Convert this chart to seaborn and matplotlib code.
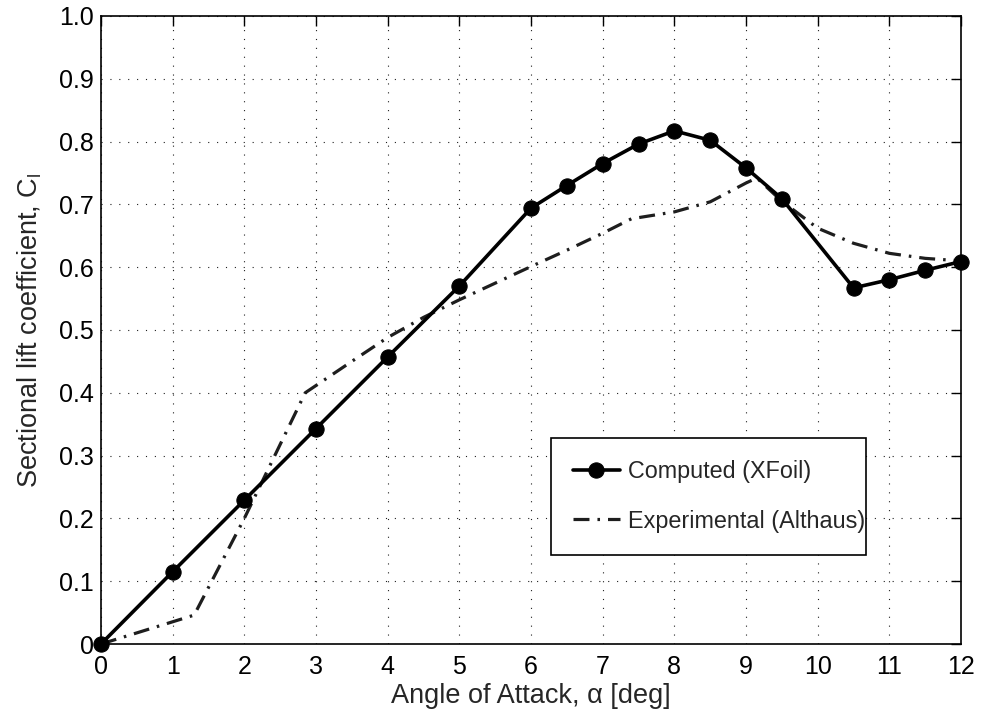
import matplotlib
matplotlib.use("Agg")
import matplotlib.pyplot as plt
import seaborn as sns
import pandas as pd

# Computed (XFoil)
alpha_comp = [0, 1, 2, 3, 4, 5, 6, 6.5, 7, 7.5, 8, 8.5, 9, 9.5, 10.5, 11, 11.5, 12]
cl_comp = [0.0, 0.115, 0.229, 0.343, 0.457, 0.570, 0.694, 0.730, 0.765, 0.796,
           0.817, 0.802, 0.758, 0.709, 0.567, 0.580, 0.595, 0.609]

# Experimental (Althaus)
alpha_exp = [0, 1.3, 2.0, 2.85, 3.5, 4, 4.5, 5, 6, 6.5, 7, 7.4, 8, 8.5, 9, 9.15,
             9.5, 10, 10.5, 11, 11.5, 12]
cl_exp = [0.0, 0.046, 0.200, 0.400, 0.450, 0.488, 0.520, 0.548, 0.601, 0.627,
          0.654, 0.677, 0.688, 0.704, 0.734, 0.742, 0.705, 0.662, 0.638, 0.622,
          0.614, 0.610]

xticks = list(range(0, 13))
yticks = [0, 0.1, 0.2, 0.3, 0.4, 0.5, 0.6, 0.7, 0.8, 0.9, 1.0]
yticklabels = ["0", "0.1", "0.2", "0.3", "0.4", "0.5", "0.6", "0.7", "0.8", "0.9", "1.0"]

sns.set_style("white")
plt.rcParams["font.family"] = ["Liberation Sans", "DejaVu Sans"]
plt.rcParams["mathtext.fontset"] = "custom"
plt.rcParams["mathtext.rm"] = "Liberation Sans"
plt.rcParams["mathtext.it"] = "Liberation Sans"

fs_tick = 18
fs_label = 19.5
fs_leg = 16.8
fig = plt.figure(figsize=(9.83, 7.17), dpi=100)
ax = fig.add_axes([0.1027, 0.1018, 0.875, 0.876])

df_c = pd.DataFrame({"alpha": alpha_comp, "cl": cl_comp})
df_e = pd.DataFrame({"alpha": alpha_exp, "cl": cl_exp})

sns.lineplot(data=df_c, x="alpha", y="cl", ax=ax, color="black", linewidth=2.6,
             marker="o", markersize=11, markeredgecolor="black",
             label="Computed (XFoil)", sort=False, zorder=3, clip_on=False)
sns.lineplot(data=df_e, x="alpha", y="cl", ax=ax, color="#1e1e1e", linewidth=2.3,
             linestyle=(0, (5, 2.5, 0.8, 2.5)), label="Experimental (Althaus)",
             sort=False, zorder=2)

ax.set_xlim(0, 12)
ax.set_ylim(0, 1.0)
ax.set_xticks(xticks)
ax.set_xticklabels([str(t) for t in xticks])
ax.set_yticks(yticks)
ax.set_yticklabels(yticklabels)
ax.grid(True, color="#202020", linestyle=(0, (1, 7)), linewidth=0.8)
ax.tick_params(direction="in", length=7, width=1, top=True, right=True,
               labelsize=fs_tick, colors="black")
ax.tick_params(axis="x", pad=8)
ax.tick_params(axis="y", pad=5)
for s in ax.spines.values():
    s.set_visible(True)
    s.set_color("black")
    s.set_linewidth(1.2)

ax.set_xlabel(r"Angle of Attack, α [deg]", fontsize=fs_label, labelpad=3)
ax.set_ylabel(r"Sectional lift coefficient, C$_\mathrm{l}$", fontsize=fs_label, labelpad=11)

leg = ax.legend(loc="lower left", bbox_to_anchor=(0.523, 0.142, 0.367, 0.188),
                mode="expand", fontsize=fs_leg, frameon=True, fancybox=False,
                edgecolor="black", framealpha=1, borderpad=0.95, labelspacing=1.15,
                handlelength=2.0, handletextpad=0.35, borderaxespad=0)
leg.get_frame().set_linewidth(1.2)

fig.savefig("out.png", dpi=100)
